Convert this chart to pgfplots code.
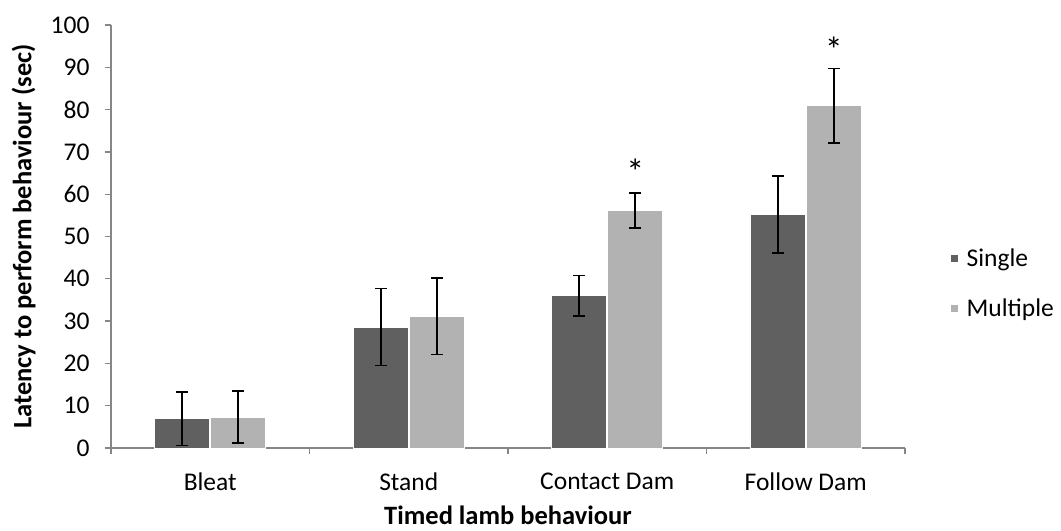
\documentclass[border=0pt]{standalone}
\usepackage{pgfplots}
\pgfplotsset{compat=1.18}
\usepackage{fontspec}
\setmainfont{Carlito}

\definecolor{single}{HTML}{606060}
\definecolor{multiple}{HTML}{B2B2B2}
\definecolor{axisgray}{HTML}{868686}

\begin{document}
\begin{tikzpicture}
\useasboundingbox (0,0) rectangle (1061bp,531bp);
\begin{axis}[
  at={(111bp,83bp)}, anchor=south west,
  scale only axis,
  width=794bp, height=423bp,
  ybar, bar width=55bp,
  xmin=-0.5, xmax=3.5,
  ymin=0, ymax=100,
  ytick={0,10,...,100},
  xtick={0,1,2,3},
  xticklabels={Bleat,Stand,Contact Dam,Follow Dam},
  minor xtick={-0.5,0.5,1.5,2.5,3.5},
  axis lines*=left,
  axis line style={axisgray, line width=1.3bp},
  x axis line style={-}, y axis line style={-},
  tick style={axisgray, line width=1.3bp},
  major x tick style={draw=none},
  tick align=outside,
  major tick length=6bp, minor tick length=6bp,
  tick label style={font=\fontsize{25.5bp}{30bp}\selectfont, text=black},
  yticklabel style={xshift=-12bp},
  xticklabel style={yshift=-15bp},
  /pgf/number format/assume math mode=true,
  ylabel={Latency to perform behaviour (sec)},
  xlabel={Timed lamb behaviour},
  label style={font=\fontsize{26.5bp}{31bp}\selectfont\bfseries},
  ylabel style={at={(axis description cs:-0.11,0.5)}, anchor=center},
  xlabel style={at={(axis description cs:0.5,-0.16)}, anchor=center},
  legend style={at={(1.056,0.389)}, anchor=west, draw=none, fill=none,
    inner sep=0pt, font=\fontsize{25.5bp}{30bp}\selectfont, row sep=26bp,
    column sep=6bp, nodes={inner sep=2bp}},
  legend cell align=left,
  legend image code/.code={\fill[#1] (0bp,-4bp) rectangle (8bp,4bp);},
  error bars/error bar style={black, line width=1.8bp},
  error bars/error mark options={black, rotate=90, mark size=6bp, line width=1.8bp},
]
\addplot[fill=single, draw=white, line width=1bp, bar shift=-28bp,
  error bars/.cd, y dir=both, y explicit]
  coordinates {
    (0,6.9) +- (0,6.3)
    (1,28.6) +- (0,9.1)
    (2,36.0) +- (0,4.8)
    (3,55.2) +- (0,9.1)
  };
\addplot[fill=multiple, draw=white, line width=1bp, bar shift=28bp,
  error bars/.cd, y dir=both, y explicit]
  coordinates {
    (0,7.3) +- (0,6.2)
    (1,31.1) +- (0,9.0)
    (2,56.1) +- (0,4.1)
    (3,80.9) +- (0,8.8)
  };
\legend{Single,Multiple}
\node[font=\fontsize{36bp}{40bp}\selectfont, anchor=base] at (axis cs:2,62.3) [xshift=28bp] {*};
\node[font=\fontsize{36bp}{40bp}\selectfont, anchor=base] at (axis cs:3,91.1) [xshift=28bp] {*};
\end{axis}
\end{tikzpicture}
\end{document}
